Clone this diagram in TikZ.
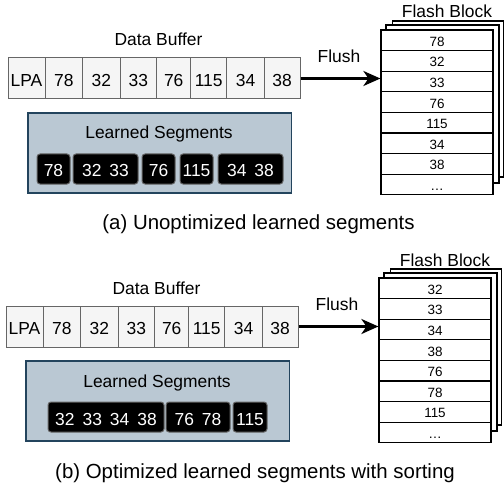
\documentclass[tikz,border=0pt]{standalone}
\usepackage{fontspec}
\setmainfont{Liberation Sans}
\usetikzlibrary{arrows.meta}
\definecolor{cellfill}{HTML}{F5F5F5}
\definecolor{cellline}{HTML}{666666}
\definecolor{segfill}{HTML}{BAC8D3}
\definecolor{segline}{HTML}{23445D}
\def\sgap{\hspace{8bp}}
\begin{document}
\begin{tikzpicture}[x=1bp,y=-1bp,
  lbl/.style={font=\fontsize{17.5}{21}\selectfont,inner sep=0,anchor=base},
  cell/.style={draw=cellline,fill=cellfill,line width=1bp,inner sep=0,minimum height=41bp,
    text height=16bp,text depth=0pt,font=\fontsize{17.5}{21}\selectfont},
  seg/.style={draw=black!60,fill=black,text=white,rounded corners=3bp,line width=1bp,inner sep=0,
    minimum height=30bp,text height=16bp,text depth=0pt,font=\fontsize{17.5}{21}\selectfont},
  lsbox/.style={draw=segline,fill=segfill,line width=1.3bp,inner sep=0},
  page/.style={draw,fill=white,line width=1.2bp,inner sep=0},
  row/.style={draw,line width=1.2bp,inner sep=0,minimum width=112bp,minimum height=20.6bp,
    text height=12bp,text depth=0pt,font=\fontsize{13.5}{16}\selectfont},
  flush/.style={line width=2.5bp,-{Stealth[length=17bp,width=15bp,inset=5bp]}}]
\useasboundingbox (0,0) rectangle (504,493);
% both panels: buffer, segments, flush, flash block
\foreach \p/\dx/\dy/\rows/\segs in {
  a/0/0/{78,32,33,76,115,34,38,\ldots}/{37/70/78,73/138/32\sgap 33,142/175/76,180/213/115,218/283/34\sgap 38},
  b/-2/248/{32,33,34,38,76,78,115,\ldots}/{50/166/32\sgap 33\sgap 34\sgap 38,168/232/76\sgap 78,235/269/115}}{
\begin{scope}[shift={(\dx,\dy)},name prefix=\p-]
\node[lbl] (buftext) at (158.5,46) {Data Buffer};
\foreach \l/\r/\t [count=\i] in {8/45/LPA,45/82.7/78,82.7/120/32,120/156.7/33,156.7/190.7/76,190.7/226.7/115,226.7/264.3/34,264.3/300/38}
  \node[cell,minimum width={(\r-\l)*1bp}] (c\i) at ({(\l+\r)/2},78.5) {\t};
\node[lsbox,minimum width=263.5bp,minimum height=80bp] (ls) at (159.75,153) {};
\node[lbl] (lstext) at (159,139) {Learned Segments};
\foreach \l/\r/\t in \segs
  \node[seg,minimum width={(\r-\l)*1bp}] (s\l) at ({(\l+\r)/2},169) {\t};
\node[lbl] (flushtext) at (339,62.7) {Flush};
\node[page,minimum width=111bp,minimum height=156bp] (pg3) at (448,99) {};
\node[page,minimum width=113bp,minimum height=158bp] (pg2) at (442.5,104) {};
\node[page,minimum width=112bp,minimum height=164.8bp] (front) at (437,112.4) {};
\foreach \t [count=\i] in \rows
  \node[row] (r\i) at (437,{30+20.6*(\i-0.5)}) {\t};
\node[lbl] (fbtext) at (447,18) {Flash Block};
\draw[flush] (c8.east) -- (c8.east -| front.west);
\end{scope}}
\node[lbl,font=\fontsize{20.5}{24}\selectfont] (capa) at (258.5,229.3) {(a) Unoptimized learned segments};
\node[lbl,font=\fontsize{20.5}{24}\selectfont] (capb) at (255,478.3) {(b) Optimized learned segments with sorting};
\end{tikzpicture}
\end{document}
